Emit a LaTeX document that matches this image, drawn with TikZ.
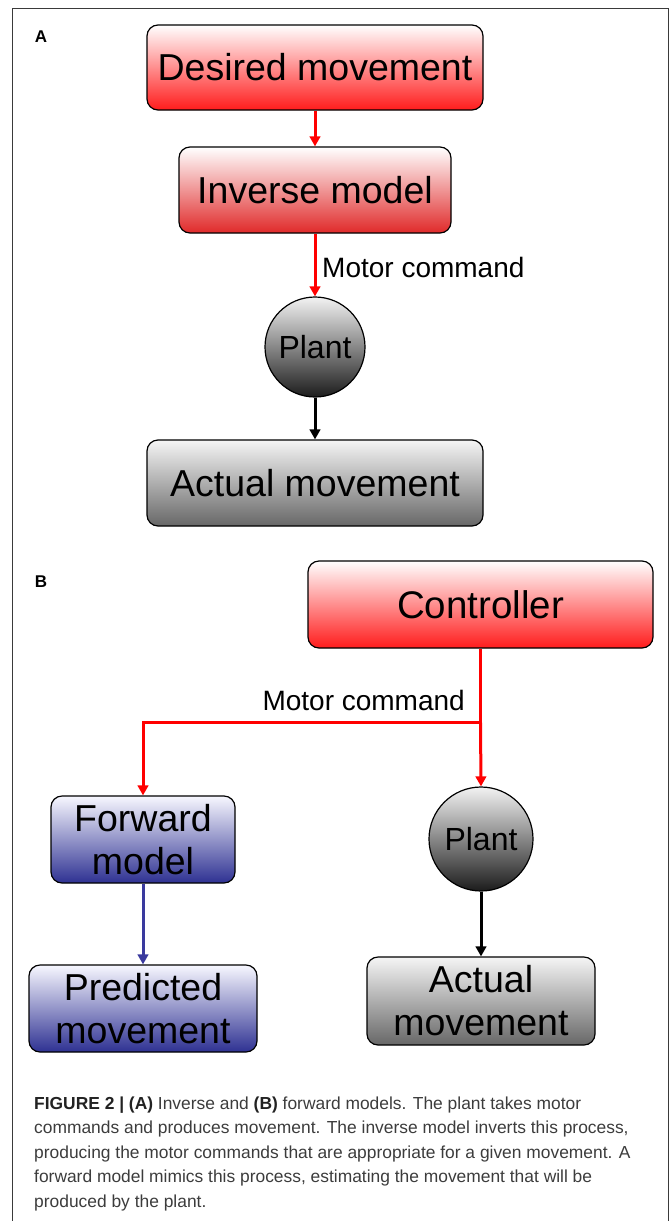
\documentclass[tikz,border=0pt]{standalone}
\usepackage{fontspec}
\setmainfont{Liberation Sans}
\usetikzlibrary{arrows.meta,calc}

\definecolor{redend}{HTML}{FF1C1C}
\definecolor{redenddark}{HTML}{E02A2A}
\definecolor{greyend}{HTML}{676767}
\definecolor{plantend}{HTML}{1C1C1C}
\definecolor{blueend}{HTML}{2E3192}
\definecolor{bluearrow}{HTML}{3A3A9E}
\definecolor{framegrey}{HTML}{3A3A3A}
\definecolor{captext}{HTML}{3C3C3C}
\definecolor{capbold}{HTML}{222222}

\begin{document}
\begin{tikzpicture}[x=1pt,y=-1pt,
  box/.style={draw=black, line width=1.2pt, rounded corners=11pt,
    inner sep=0pt, align=center, font=\fontsize{37.5}{43}\selectfont},
  redbox/.style={box, top color=white, bottom color=redend},
  redboxdark/.style={box, top color=white, bottom color=redenddark},
  greybox/.style={box, top color=white!96!black, bottom color=greyend},
  bluebox/.style={box, top color=white!97!blue, bottom color=blueend},
  plantnode/.style={circle, draw=black, line width=1.2pt, inner sep=0pt,
    top color=white!95!black, bottom color=plantend,
    font=\fontsize{32}{38}\selectfont},
  tip/.style={-{Triangle[length=10pt,width=10.5pt]}},
  redflow/.style={tip, draw=red, line width=3pt},
  blackflow/.style={tip, draw=black, line width=3pt},
  blueflow/.style={tip, draw=bluearrow, line width=3pt},
  cmdlabel/.style={inner sep=0pt, font=\fontsize{28}{32}\selectfont},
  panel/.style={inner sep=0pt, font=\fontsize{17}{20}\selectfont\bfseries},
  capline/.style={inner sep=0pt, anchor=base west, text=captext,
    font=\fontsize{17.4}{24}\selectfont},
]
\useasboundingbox (0,0) rectangle (671,1221);

% outer frame, open at the bottom
\draw[framegrey, line width=1pt] (12,1221) -- (12,8) -- (668,8) -- (668,1221);

% ---------- panel A: inverse model ----------
\node[panel] (labA) at (41,37) {A};
\node[redbox, minimum width=336pt, minimum height=85pt] (desired) at (315,67.5) {Desired movement};
\node[redboxdark, minimum width=272pt, minimum height=86pt] (inverse) at (315,190) {Inverse model};
\node[plantnode, minimum size=100pt] (plantA) at (315,347) {Plant};
\node[greybox, minimum width=336pt, minimum height=86pt] (actualA) at (315,483) {Actual movement};

\draw[redflow] (desired.south) -- (inverse.north);
\draw[redflow] (inverse.south) -- (plantA.north);
\node[cmdlabel, anchor=west] (cmdA) at (322,267) {Motor command};
\draw[blackflow] (plantA.south) -- (actualA.north);

% ---------- panel B: forward model ----------
\node[panel] (labB) at (41,582) {B};
\node[redbox, minimum width=345pt, minimum height=87pt, font=\fontsize{38.5}{44}\selectfont] (ctrl) at (480.5,604.5) {Controller};
\node[bluebox, minimum width=184pt, minimum height=87pt] (fwd) at (143,839.5) {Forward\\model};
\node[plantnode, minimum size=104pt] (plantB) at (481,839) {Plant};
\node[bluebox, minimum width=228pt, minimum height=87pt] (pred) at (143,1008.5) {Predicted\\movement};
\node[greybox, minimum width=228pt, minimum height=88pt] (actualB) at (481,1001) {Actual\\movement};

\path (ctrl.south) ++(0,74) coordinate (split);
\draw[redflow] (ctrl.south) -- (split) -| (fwd.north);
\draw[redflow] (split) -- (plantB.north);
\node[cmdlabel, anchor=east] (cmdB) at (465,700) {Motor command};
\draw[blueflow] (fwd.south) -- (pred.north);
\draw[blackflow] (plantB.south) -- (actualB.north);

% ---------- caption ----------
\node[capline] (cap1) at (34,1109) {{\bfseries\color{capbold}FIGURE 2 | (A)} Inverse and {\bfseries\color{capbold}(B)} forward models. The plant takes motor};
\node[capline] (cap2) at (34,1133.5) {commands and produces movement. The inverse model inverts this process,};
\node[capline] (cap3) at (34,1158) {producing the motor commands that are appropriate for a given movement. A};
\node[capline] (cap4) at (34,1182.5) {forward model mimics this process, estimating the movement that will be};
\node[capline] (cap5) at (34,1207) {produced by the plant.};
\end{tikzpicture}
\end{document}
